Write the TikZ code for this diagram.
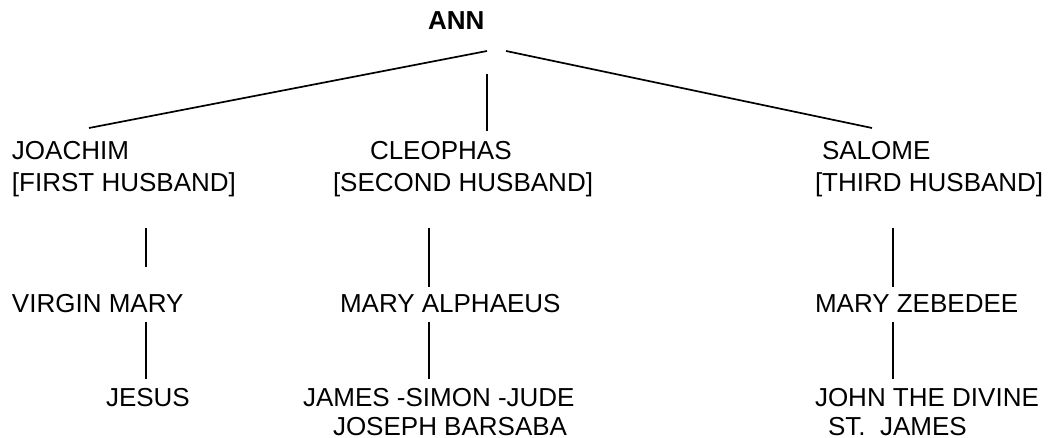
\documentclass[tikz,border=0pt]{standalone}
\usepackage{fontspec}
\setmainfont{Liberation Sans}
\begin{document}
\begin{tikzpicture}[x=1pt,y=-1pt,
  lbl/.style={anchor=base west,inner sep=0pt,outer sep=0pt,font=\fontsize{26}{32}\selectfont},
  ttl/.style={lbl,font=\fontsize{26}{32}\selectfont\bfseries},
  link/.style={line width=1.7pt}]
\useasboundingbox (0,0) rectangle (1055,438);
% names
\node[ttl] (ann) at (428,30) {ANN};
\node[lbl] (joachim) at (12,160) {JOACHIM};
\node[lbl] (joachimrole) at (12,192) {[FIRST HUSBAND]};
\node[lbl] (cleophas) at (370,160) {CLEOPHAS};
\node[lbl] (cleophasrole) at (333,192) {[SECOND HUSBAND]};
\node[lbl] (salome) at (822,160) {SALOME};
\node[lbl] (salomerole) at (815,192) {[THIRD HUSBAND]};
\node[lbl] (virgin) at (12,313) {VIRGIN MARY};
\node[lbl] (alphaeus) at (340,313) {MARY ALPHAEUS};
\node[lbl] (zebedee) at (815,313) {MARY ZEBEDEE};
\node[lbl] (jesus) at (106,406) {JESUS};
\node[lbl] (james) at (303,406) {JAMES -SIMON -JUDE};
\node[lbl] (joseph) at (333,435) {JOSEPH BARSABA};
\node[lbl] (john) at (815,406) {JOHN THE DIVINE};
\node[lbl] (stjames) at (828,435) {ST.~~JAMES};
% connector ends
\coordinate (annL) at (487,51);
\coordinate (annR) at (506,51);
\coordinate (annM) at (487,74);
\coordinate (joaT) at (89,128);
\coordinate (cleT) at (487,131);
\coordinate (salT) at (872,128);
\coordinate (joaB) at (146,228);
\coordinate (virT) at (146,267);
\coordinate (virB) at (146,322);
\coordinate (jesT) at (146,379);
\coordinate (cleB) at (429,228);
\coordinate (alpT) at (429,287);
\coordinate (alpB) at (429,322);
\coordinate (jamT) at (429,379);
\coordinate (salB) at (893,228);
\coordinate (zebT) at (893,287);
\coordinate (zebB) at (893,322);
\coordinate (johT) at (893,379);
% connectors
\draw[link] (annL) -- (joaT);
\draw[link] (annM) -- (cleT);
\draw[link] (annR) -- (salT);
\draw[link] (joaB) -- (virT);
\draw[link] (virB) -- (jesT);
\draw[link] (cleB) -- (alpT);
\draw[link] (alpB) -- (jamT);
\draw[link] (salB) -- (zebT);
\draw[link] (zebB) -- (johT);
\end{tikzpicture}
\end{document}
